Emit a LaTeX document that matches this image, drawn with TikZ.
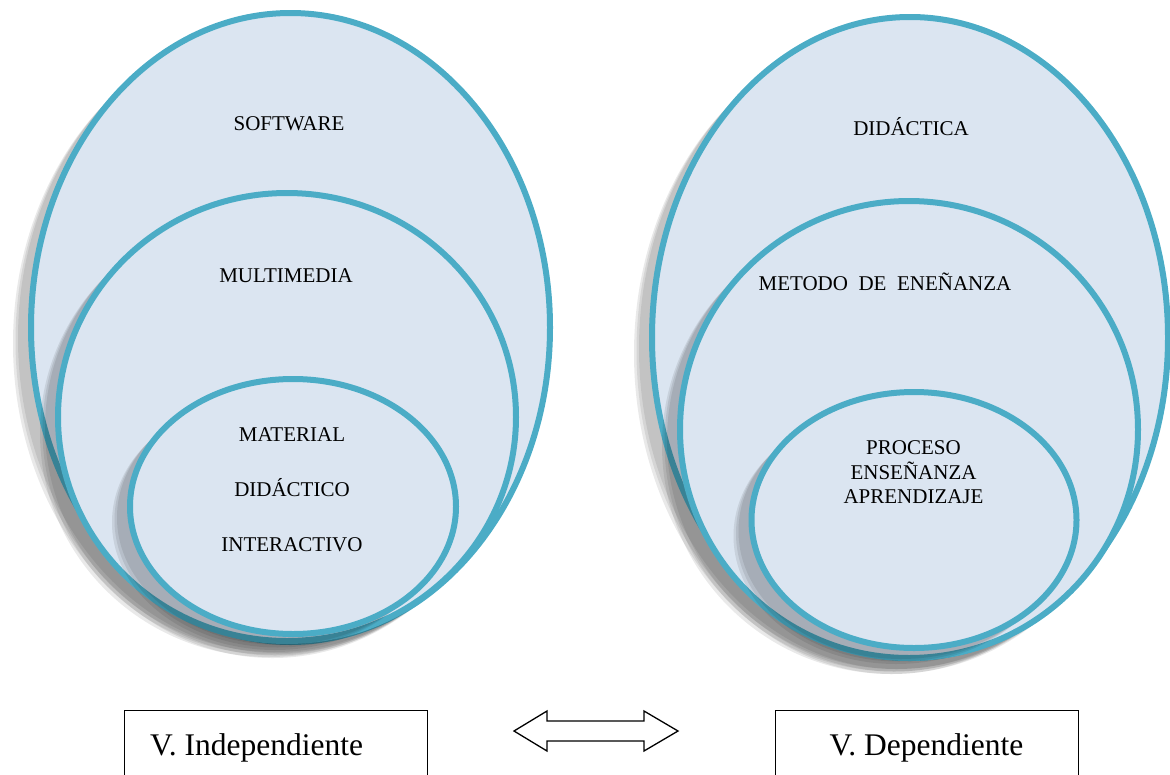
\documentclass[tikz,border=0pt]{standalone}
\usepackage{fontspec}
\setmainfont{Liberation Serif}

\definecolor{ringline}{HTML}{4BACC6}
\definecolor{ringfill}{HTML}{DBE5F1}

\tikzset{
  ring/.style={draw=ringline, line width=6pt, fill=ringfill},
  ringshade/.style={fill=black, fill opacity=0.085, draw=none},
  lbl/.style={font=\fontsize{21}{24}\selectfont, inner sep=0pt, anchor=base},
  varbox/.style={draw=black, line width=1.3pt, minimum width=303pt,
                 minimum height=80pt, inner sep=0pt, anchor=north west},
  varlbl/.style={font=\fontsize{31.5}{36}\selectfont, inner sep=0pt},
  linkarrow/.style={draw=black, line width=1.3pt, fill=white, line join=miter},
}

% an ellipse with a soft drop shadow towards the lower left
% #1,#2 centre, #3,#4 radii
\newcommand{\shadedring}[4]{%
  \foreach \dx/\dy in {-13/11,-15.5/13.5,-18/16} {
    \fill[ringshade] (#1+\dx,#2+\dy) ellipse [x radius=#3, y radius=#4];
  }
  \draw[ring] (#1,#2) ellipse [x radius=#3, y radius=#4];
}

\begin{document}
\begin{tikzpicture}[x=1pt,y=-1pt]
  \useasboundingbox (0,0) rectangle (1170,774);
  \clip (0,0) rectangle (1170,774);

  % independent variable: nested rings
  \shadedring{290.5}{327.5}{259.5}{314.5}
  \shadedring{287}{417}{229}{224}
  \shadedring{293}{506.5}{163}{127.5}

  \node[lbl] (software)   at (289,130.5) {SOFTWARE};
  \node[lbl] (multimedia) at (286,282)   {MULTIMEDIA};
  \node[lbl] (material)   at (292,441)   {MATERIAL};
  \node[lbl] (didactico)  at (292,496)   {DIDÁCTICO};
  \node[lbl] (interact)   at (292,551.5) {INTERACTIVO};

  % dependent variable: nested rings
  \shadedring{910}{337.5}{258}{320.5}
  \shadedring{909}{429.5}{229}{228.5}
  \shadedring{914}{520}{162.5}{128}

  \node[lbl] (didactica) at (911,135)   {DIDÁCTICA};
  \node[lbl] (metodo)    at (885,290.5) {METODO\ \ DE\ \ ENEÑANZA};
  \node[lbl] (proceso)   at (913.5,454) {PROCESO};
  \node[lbl] (ensenanza) at (913.5,479) {ENSEÑANZA};
  \node[lbl] (aprend)    at (913.5,503) {APRENDIZAJE};

  % variable boxes
  \node[varbox] (indep) at (124,710) {};
  \node[varlbl, anchor=base west] (indeplbl) at (150,755) {V. Independiente};
  \node[varbox] (dep) at (775,710) {};
  \node[varlbl, anchor=base] (deplbl) at (926.5,755) {V. Dependiente};

  % two-way block arrow between the boxes
  \coordinate (link) at (596,731);
  \draw[linkarrow] ([xshift=-82pt]link) -- ++(33,-20) -- ++(0,10) -- ++(97,0)
    -- ++(0,-10) -- ++(34,20) -- ++(-34,20) -- ++(0,-10) -- ++(-97,0)
    -- ++(0,10) -- cycle;
\end{tikzpicture}
\end{document}
